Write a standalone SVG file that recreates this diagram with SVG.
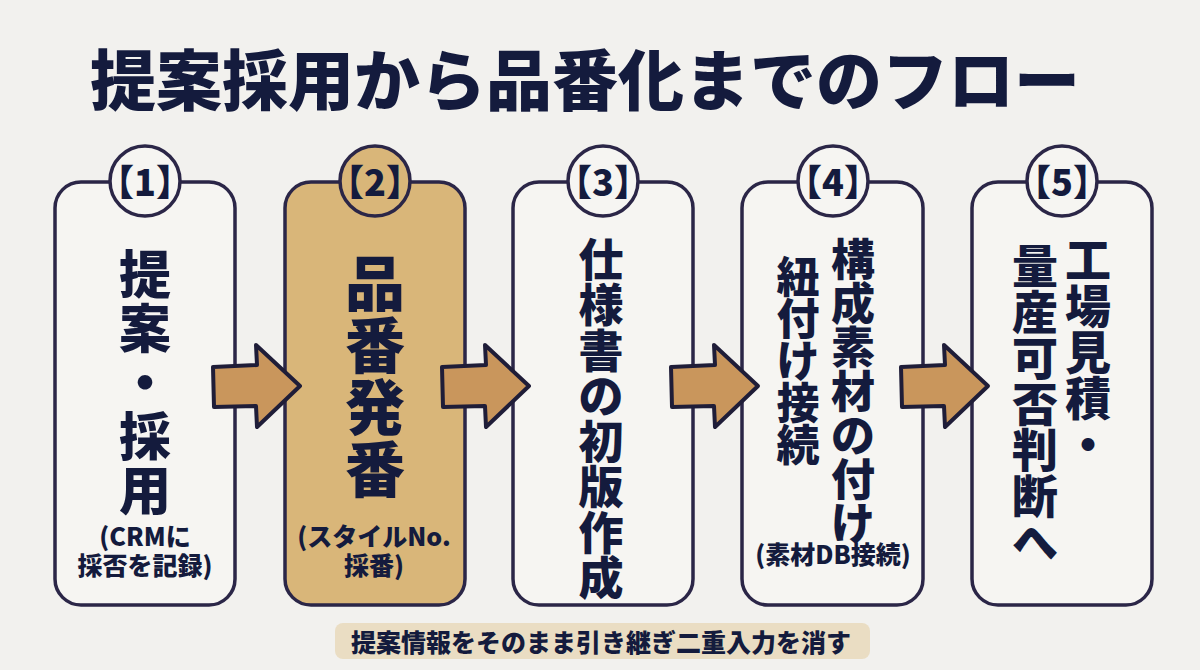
<svg xmlns="http://www.w3.org/2000/svg" xmlns:xlink="http://www.w3.org/1999/xlink" width="1200" height="670" viewBox="0 0 1200 670">
<defs>
<style>
.t{font-family:"Noto Sans CJK JP","Noto Sans CJK SC",sans-serif;font-weight:900;fill:#141B3D;text-anchor:middle;dominant-baseline:central}
.box{fill:#F6F5F2;stroke:#2B2647;stroke-width:3.5}
.box2{fill:#D9B679;stroke:#2B2647;stroke-width:3.5}
.num{font-size:36px}
.sub{font-size:25px}
</style>
<path id="arrow" d="M213,367 L257,365 L256,345 L300,386 L257,427 L256,406 L214,407 Z" fill="#C9965C" stroke="#1F1D38" stroke-width="4" stroke-linejoin="round"/>
</defs>
<rect width="1200" height="670" fill="#F2F1EE"/>
<text class="t" x="585" y="76" font-size="66">提案採用から品番化までのフロー</text>

<g id="node1">
<rect class="box" x="55" y="182" width="180" height="423" rx="26"/>
<circle class="box" cx="145" cy="181" r="35"/>
<text class="t num" x="145" y="180">【1】</text>
<text class="t" font-size="52"><tspan x="145" y="271">提</tspan><tspan x="145" y="325">案</tspan><tspan x="145" y="379">・</tspan><tspan x="145" y="433">採</tspan><tspan x="145" y="487">用</tspan></text>
<text class="t sub"><tspan x="145" y="535">(CRMに</tspan><tspan x="145" y="564">採否を記録)</tspan></text>
</g>

<g id="node2">
<rect class="box2" x="285" y="182" width="180" height="423" rx="26"/>
<circle class="box2" cx="375" cy="181" r="35"/>
<text class="t num" x="375" y="180">【2】</text>
<text class="t" font-size="60"><tspan x="375" y="279">品</tspan><tspan x="375" y="341">番</tspan><tspan x="375" y="403">発</tspan><tspan x="375" y="465">番</tspan></text>
<text class="t sub"><tspan x="374" y="535">(スタイルNo.</tspan><tspan x="374" y="564">採番)</tspan></text>
</g>

<g id="node3">
<rect class="box" x="513" y="182" width="180" height="423" rx="26"/>
<circle class="box" cx="603" cy="181" r="35"/>
<text class="t num" x="603" y="180">【3】</text>
<text class="t" font-size="45"><tspan x="601" y="257">仕</tspan><tspan x="601" y="302">様</tspan><tspan x="601" y="348">書</tspan><tspan x="601" y="393">の</tspan><tspan x="601" y="439">初</tspan><tspan x="601" y="484">版</tspan><tspan x="601" y="530">作</tspan><tspan x="601" y="575">成</tspan></text>
</g>

<g id="node4">
<rect class="box" x="742" y="182" width="181" height="423" rx="26"/>
<circle class="box" cx="833" cy="181" r="35"/>
<text class="t num" x="833" y="180">【4】</text>
<text class="t" font-size="44"><tspan x="853" y="257">構</tspan><tspan x="853" y="301">成</tspan><tspan x="853" y="345">素</tspan><tspan x="853" y="389">材</tspan><tspan x="853" y="433">の</tspan><tspan x="853" y="477">付</tspan><tspan x="853" y="521">け</tspan></text>
<text class="t" font-size="43"><tspan x="798" y="274">紐</tspan><tspan x="798" y="316">付</tspan><tspan x="798" y="358">け</tspan><tspan x="798" y="400">接</tspan><tspan x="798" y="442">続</tspan></text>
<text class="t sub" x="833" y="553">(素材DB接続)</text>
</g>

<g id="node5">
<rect class="box" x="972" y="182" width="180" height="423" rx="26"/>
<circle class="box" cx="1062" cy="181" r="35"/>
<text class="t num" x="1062" y="180">【5】</text>
<text class="t" font-size="46"><tspan x="1088" y="257">工</tspan><tspan x="1088" y="303">場</tspan><tspan x="1088" y="349">見</tspan><tspan x="1088" y="395">積</tspan><tspan x="1088" y="441">・</tspan></text>
<text class="t" font-size="46"><tspan x="1035" y="263">量</tspan><tspan x="1035" y="309">産</tspan><tspan x="1035" y="355">可</tspan><tspan x="1035" y="401">否</tspan><tspan x="1035" y="447">判</tspan><tspan x="1035" y="493">断</tspan><tspan x="1035" y="539">へ</tspan></text>
</g>

<g id="connectors">
<use xlink:href="#arrow" x="0" y="0"/>
<use xlink:href="#arrow" x="229" y="0"/>
<use xlink:href="#arrow" x="458" y="0"/>
<use xlink:href="#arrow" x="688" y="0"/>
</g>

<g id="note">
<rect x="335" y="623" width="535" height="36" rx="8" fill="#EADDC3"/>
<text class="t" x="601" y="641" font-size="25">提案情報をそのまま引き継ぎ二重入力を消す</text>
</g>
</svg>
